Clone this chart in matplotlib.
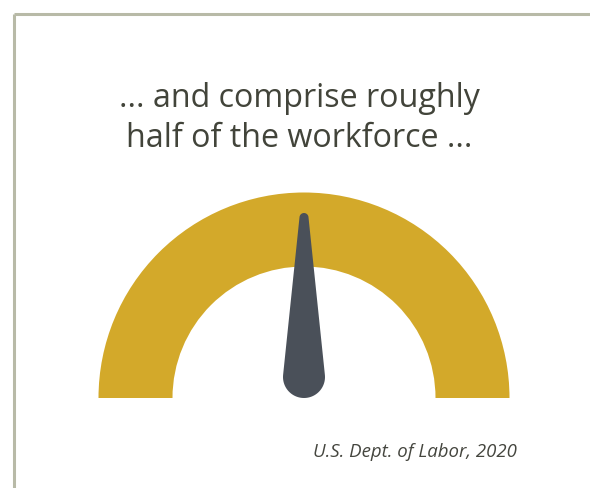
import numpy as np
import matplotlib
matplotlib.use("Agg")
import matplotlib.pyplot as plt
from matplotlib.patches import Wedge, Polygon

# ---- data ----
title_lines = ["... and comprise roughly", "half of the workforce ..."]
source = "U.S. Dept. of Labor, 2020"
gauge_min = 0
gauge_max = 100
gauge_value = 50  # women's share of workforce (%)

W, H = 590, 489
fig = plt.figure(figsize=(W / 100, H / 100), dpi=100)
ax = fig.add_axes([0, 0, 1, 1])
ax.set_xlim(0, W)
ax.set_ylim(0, H)
ax.axis("off")

def Y(y):
    return H - y

# border (top and left)
border_c = "#B8BAA7"
ax.plot([13.5, W], [Y(15), Y(15)], color=border_c, lw=2.2, solid_capstyle="butt")
ax.plot([13.5, 13.5], [Y(15), 0], color=border_c, lw=2.2, solid_capstyle="butt")

# title
for line, yb in zip(title_lines, [107, 147]):
    ax.text(299, Y(yb), line, ha="center", va="baseline",
            fontsize=23.2, family="Open Sans", color="#42443A")

# gauge arc
cx, cy = 304, Y(399)
R_out, R_in = 205.5, 131.5
ax.add_patch(Wedge((cx, cy), R_out, 0, 180, width=R_out - R_in,
                   facecolor="#D3A92A", edgecolor="none"))

# needle
frac = (gauge_value - gauge_min) / (gauge_max - gauge_min)
ang = np.pi * (1 - frac)
px, py = cx, Y(378)
Rb, rt, L = 21, 4.5, 159.5
u = np.array([np.cos(ang), np.sin(ang)])
tx, ty = px + L * u[0], py + L * u[1]
phi = np.arccos((Rb - rt) / L)
base_a = np.linspace(ang + phi, ang + 2 * np.pi - phi, 60)
tip_a = np.linspace(ang - phi, ang + phi, 30)
pts = [(px + Rb * np.cos(a), py + Rb * np.sin(a)) for a in base_a]
pts += [(tx + rt * np.cos(a), ty + rt * np.sin(a)) for a in tip_a]
ax.add_patch(Polygon(pts, closed=True, facecolor="#4A5059", edgecolor="none"))

# source
ax.text(517, Y(457), source, ha="right", va="baseline", fontsize=13.4,
        family="Open Sans", style="italic", color="#45463F")

fig.savefig("out.png", dpi=100, facecolor="white")
